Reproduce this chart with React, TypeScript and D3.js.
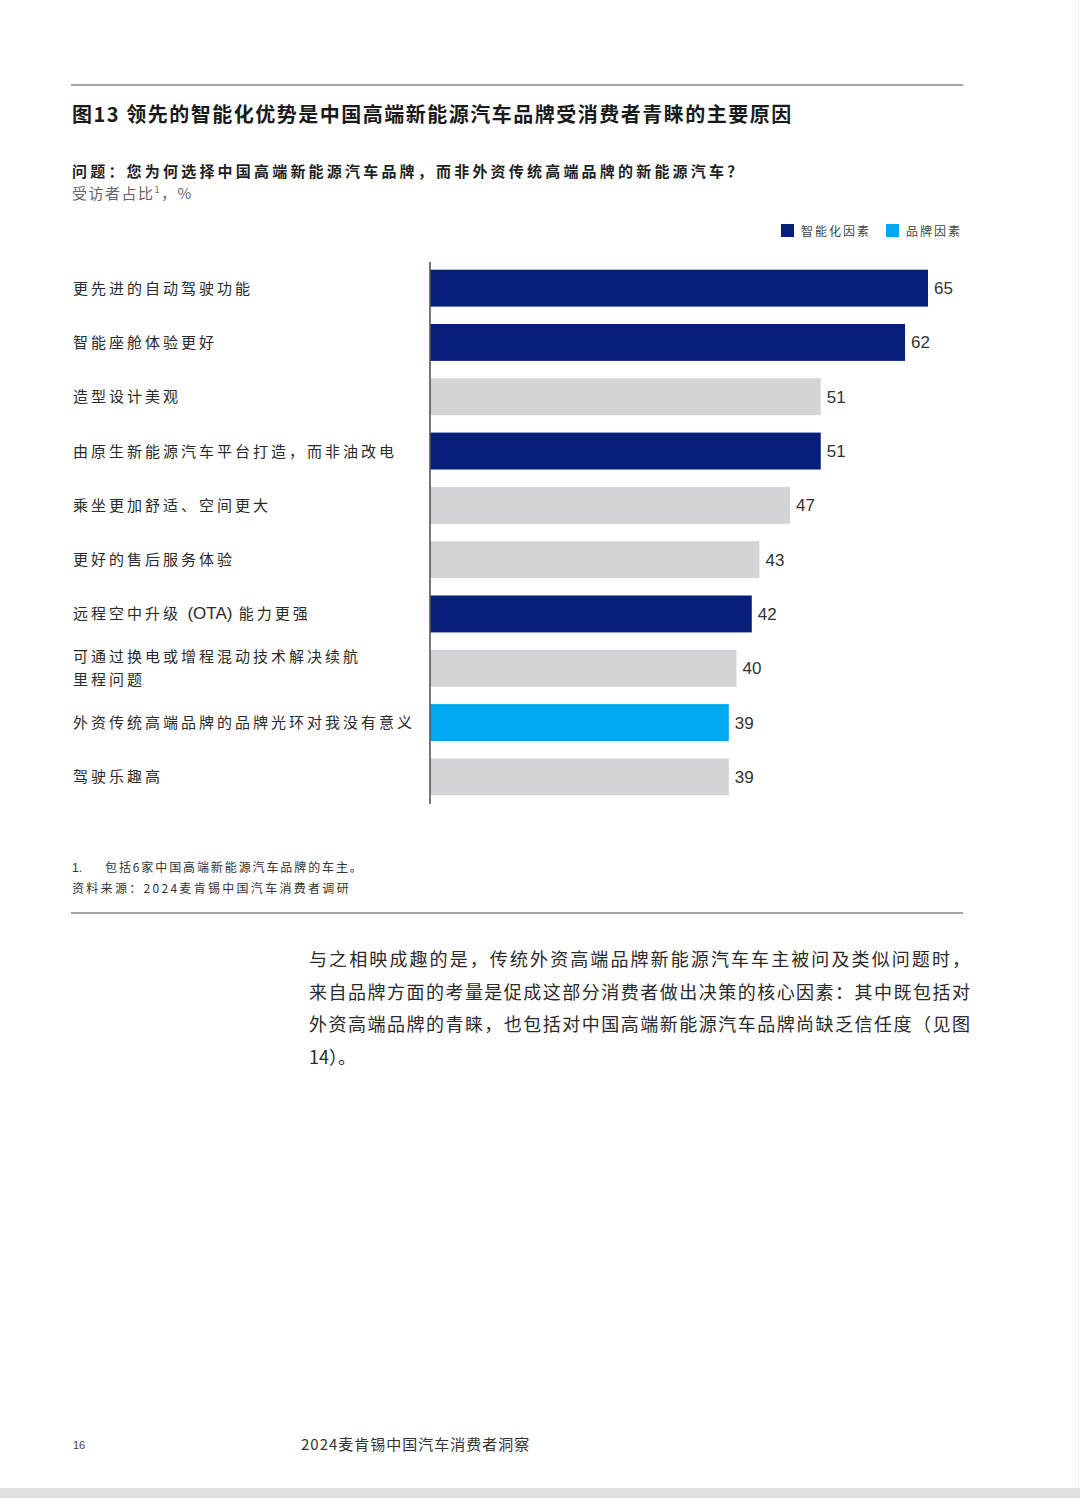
import React from "react";
import * as d3 from "d3";

const categories = [
  "更先进的自动驾驶功能",
  "智能座舱体验更好",
  "造型设计美观",
  "由原生新能源汽车平台打造，而非油改电",
  "乘坐更加舒适、空间更大",
  "更好的售后服务体验",
  "远程空中升级 |(OTA)| 能力更强",
  "可通过换电或增程混动技术解决续航\n里程问题",
  "外资传统高端品牌的品牌光环对我没有意义",
  "驾驶乐趣高",
];
const values = [65, 62, 51, 51, 47, 43, 42, 40, 39, 39];
// "smart" = 智能化因素, "brand" = 品牌因素, "other" = grey
const groups = ["smart", "smart", "other", "smart", "other", "other", "smart", "other", "brand", "other"];

const legendItems = [
  { key: "smart", label: "智能化因素" },
  { key: "brand", label: "品牌因素" },
];

const paragraph = [
  "与之相映成趣的是，传统外资高端品牌新能源汽车车主被问及类似问题时，",
  "来自品牌方面的考量是促成这部分消费者做出决策的核心因素：其中既包括对",
  "外资高端品牌的青睐，也包括对中国高端新能源汽车品牌尚缺乏信任度（见图",
  "14）。",
];

const W = 1080;
const H = 1498;
const CJK = "'Noto Sans CJK SC', 'Noto Sans', sans-serif";
const NUM = "'Liberation Sans', Arial, sans-serif";

const color = d3
  .scaleOrdinal<string, string>()
  .domain(["smart", "brand", "other"])
  .range(["#071f78", "#00a8f0", "#d3d4d5"]);

export default function App() {
  const x = d3.scaleLinear().domain([0, 65]).range([430, 928]);
  const y = d3
    .scaleBand<number>()
    .domain(d3.range(categories.length))
    .range([261, 804])
    .paddingInner(0.32)
    .paddingOuter(0.16);

  return (
    <svg
      width={W}
      height={H}
      style={{ position: "absolute", left: 0, top: 0, display: "block", background: "#fff" }}
    >
      <rect x={0} y={0} width={W} height={H} fill="#fff" />

      {/* header */}
      <line x1={71} x2={963} y1={85} y2={85} stroke="#a3a3a3" strokeWidth={2} />
      <text x={72} y={122} fontFamily={CJK} fontSize={20} fontWeight={700} fill="#1a1a1a" letterSpacing={1.5}>
        图13 领先的智能化优势是中国高端新能源汽车品牌受消费者青睐的主要原因
      </text>
      <text x={72} y={177} fontFamily={CJK} fontSize={15} fontWeight={700} fill="#1f1f1f" letterSpacing={3.2}>
        问题：您为何选择中国高端新能源汽车品牌，而非外资传统高端品牌的新能源汽车？
      </text>
      <text x={72} y={199} fontFamily={CJK} fontSize={15} fill="#666" letterSpacing={1.5}>
        受访者占比<tspan fontSize={9} dy={-6}>1</tspan>
        <tspan dy={6}>，%</tspan>
      </text>

      {/* legend */}
      {legendItems.map((it, i) => {
        const lx = i === 0 ? 781 : 886;
        return (
          <g key={it.key}>
            <rect x={lx} y={224} width={13} height={13} fill={color(it.key)} />
            <text x={lx + 20} y={235.5} fontFamily={CJK} fontSize={12} fill="#444" letterSpacing={2}>
              {it.label}
            </text>
          </g>
        );
      })}

      {/* bars */}
      {values.map((v, i) => (
        <g key={i}>
          <rect
            x={x(0)}
            y={y(i)!}
            width={x(v) - x(0)}
            height={y.bandwidth()}
            fill={color(groups[i])}
          />
          <text
            x={x(v) + 6}
            y={y(i)! + y.bandwidth() / 2 + 6}
            fontFamily={NUM}
            fontSize={17}
            fill="#333"
          >
            {v}
          </text>
        </g>
      ))}
      <line x1={430} x2={430} y1={262} y2={804} stroke="#555" strokeWidth={1.6} />

      {/* category labels */}
      {categories.map((c, i) => {
        const lines = c.split("\n");
        const cy = y(i)! + y.bandwidth() / 2;
        const lh = 23;
        const start = cy - ((lines.length - 1) * lh) / 2 + 5.5;
        return (
          <text key={i} fontFamily={CJK} fontSize={15} fill="#2a2a2a" letterSpacing={3}>
            {lines.map((l, j) => (
              <tspan key={j} x={73} y={start + j * lh}>
                {l.split("|").map((part, k) =>
                  k % 2 === 1 ? (
                    <tspan key={k} fontFamily={NUM} fontSize={17} letterSpacing={0}>
                      {part}
                    </tspan>
                  ) : (
                    <tspan key={k}>{part}</tspan>
                  )
                )}
              </tspan>
            ))}
          </text>
        );
      })}

      {/* footnotes */}
      <text x={72} y={872} fontFamily={NUM} fontSize={12} fill="#333">
        1.
      </text>
      <text x={105} y={872} fontFamily={CJK} fontSize={12} fill="#333" letterSpacing={1.9}>
        包括6家中国高端新能源汽车品牌的车主。
      </text>
      <text x={72} y={893} fontFamily={CJK} fontSize={12} fill="#333" letterSpacing={2.3}>
        资料来源：2024麦肯锡中国汽车消费者调研
      </text>
      <line x1={71} x2={963} y1={913} y2={913} stroke="#a3a3a3" strokeWidth={2} />

      {/* body paragraph */}
      {paragraph.map((l, i) => (
        <text
          key={i}
          x={309}
          y={966 + i * 32.5}
          fontFamily={CJK}
          fontSize={18}
          fill="#2a2a2a"
          textLength={i < 3 ? 661 : undefined}
          lengthAdjust="spacing"
        >
          {l}
        </text>
      ))}

      {/* page footer */}
      <text x={73} y={1449} fontFamily={NUM} fontSize={11} fill="#444">
        16
      </text>
      <text x={301} y={1450} fontFamily={CJK} fontSize={15} fill="#333" letterSpacing={1}>
        2024麦肯锡中国汽车消费者洞察
      </text>

      <rect x={0} y={1488} width={W} height={10} fill="#e1e1e1" />
      <line x1={1078.5} x2={1078.5} y1={0} y2={1488} stroke="#ececec" strokeWidth={1} />
    </svg>
  );
}
